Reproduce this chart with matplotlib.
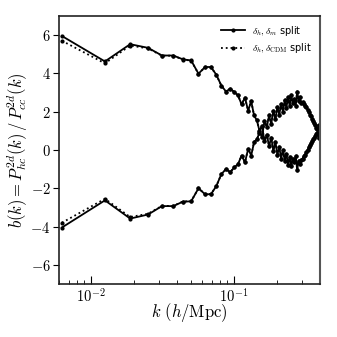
"""
Bias split b(k) = P_hc / P_cc for the two density splits.
Saves out.png (337x337).
"""

import numpy as np
import matplotlib.pyplot as plt
from matplotlib.ticker import FixedLocator, LogLocator, FuncFormatter, NullFormatter

plt.rcParams["mathtext.fontset"] = "cm"

# =========================================================
# Data
# =========================================================

# k bins: multiples of the fundamental mode of a 1000 Mpc/h box
mode_index = np.arange(1, 63)
k = mode_index * 2 * np.pi / 1000.0

# delta_h, delta_m split
b_m_upper = [5.95, 4.62, 5.52, 5.33, 4.93, 4.93, 4.73, 4.67, 3.98, 4.33,
             4.33, 3.92, 3.36, 3.05, 3.20, 3.02, 2.85, 2.38, 2.73, 2.05,
             2.55, 1.80, 1.55, 1.00, 1.25, 0.45, 0.80, 0.20, 0.65, -0.05,
             0.40, -0.25, 0.15, -0.45, 0.00, -0.55, -0.20, -0.80, -0.35, -0.85,
             -0.45, -0.65, -0.30, -1.05, -0.55, -0.75, -0.50, -0.45, -0.30, -0.25,
             -0.10, 0.00, 0.15, 0.25, 0.35, 0.45, 0.55, 0.60, 0.75, 0.85,
             0.90, 1.30]
b_m_lower = [-4.05, -2.63, -3.58, -3.37, -2.93, -2.93, -2.70, -2.68, -2.00, -2.31,
             -2.31, -1.88, -1.26, -1.00, -1.16, -0.91, -0.74, -0.29, -0.65, 0.06,
             -0.29, 0.40, 0.55, 0.90, 0.70, 1.50, 1.20, 1.80, 1.35, 2.05,
             1.60, 2.25, 1.85, 2.40, 2.00, 2.60, 2.20, 2.75, 2.30, 2.85,
             2.45, 2.65, 2.30, 3.05, 2.55, 2.75, 2.45, 2.50, 2.40, 2.30,
             2.25, 2.10, 2.00, 1.85, 1.75, 1.60, 1.50, 1.40, 1.30, 1.15,
             1.10, 0.60]

# delta_h, delta_CDM split
b_cdm_upper = [5.70, 4.52, 5.45, 5.30, 4.92, 4.92, 4.72, 4.66, 3.98, 4.32,
               4.32, 3.92, 3.36, 3.05, 3.20, 3.02, 2.85, 2.38, 2.73, 2.05,
               2.55, 1.80, 1.55, 1.00, 1.25, 0.45, 0.80, 0.20, 0.65, -0.05,
               0.40, -0.25, 0.15, -0.45, 0.00, -0.55, -0.20, -0.80, -0.35, -0.85,
               -0.45, -0.65, -0.30, -1.05, -0.55, -0.75, -0.50, -0.45, -0.30, -0.25,
               -0.10, 0.00, 0.15, 0.25, 0.35, 0.45, 0.55, 0.60, 0.75, 0.85,
               0.90, 1.30]
b_cdm_lower = [-3.80, -2.55, -3.50, -3.33, -2.92, -2.92, -2.69, -2.67, -2.00, -2.30,
               -2.30, -1.88, -1.26, -1.00, -1.16, -0.91, -0.74, -0.29, -0.65, 0.06,
               -0.29, 0.40, 0.55, 0.90, 0.70, 1.50, 1.20, 1.80, 1.35, 2.05,
               1.60, 2.25, 1.85, 2.40, 2.00, 2.60, 2.20, 2.75, 2.30, 2.85,
               2.45, 2.65, 2.30, 3.05, 2.55, 2.75, 2.45, 2.50, 2.40, 2.30,
               2.25, 2.10, 2.00, 1.85, 1.75, 1.60, 1.50, 1.40, 1.30, 1.15,
               1.10, 0.60]

y_ticks = [-6, -4, -2, 0, 2, 4, 6]


# =========================================================
# Plot
# =========================================================

fig = plt.figure(figsize=(3.37, 3.37), dpi=100)
ax = fig.add_axes([0.175, 0.157, 0.775, 0.796])

line_kw = dict(color="black", lw=1.3, marker="o", ms=2.0)

ax.plot(k, b_cdm_upper, ls=":", **line_kw)
ax.plot(k, b_cdm_lower, ls=":", **line_kw)
ax.plot(k, b_m_upper, ls="-", label=r"$\delta_h, \delta_m$ split", **line_kw)
ax.plot(k, b_m_lower, ls="-", **line_kw)
# legend proxy for the dotted series
ax.plot([], [], ls=":", label=r"$\delta_h, \delta_{\rm CDM}$ split", **line_kw)

ax.set_xscale("log")
ax.set_xlim(0.006, 0.4)
ax.set_ylim(-7, 7)

ax.yaxis.set_major_locator(FixedLocator(y_ticks))
ax.yaxis.set_major_formatter(FuncFormatter(lambda v, p: r"$%d$" % v if v >= 0 else r"$-%d$" % -v))
ax.xaxis.set_major_locator(LogLocator(base=10))
ax.xaxis.set_minor_locator(LogLocator(base=10, subs=np.arange(2, 10)))
ax.xaxis.set_major_formatter(FuncFormatter(lambda v, p: r"$10^{%d}$" % round(np.log10(v))))
ax.xaxis.set_minor_formatter(NullFormatter())

ax.tick_params(which="both", top=False, right=False, labelsize=10.5)
ax.tick_params(axis="x", which="major", direction="in", length=6, width=0.8, pad=2)
ax.tick_params(axis="x", which="minor", direction="in", length=3, width=0.6)
ax.tick_params(axis="y", which="major", direction="out", length=4, width=0.8, pad=2)
ax.tick_params(axis="y", which="minor", left=False)

for side in ["left", "bottom", "top"]:
    ax.spines[side].set_color("#222222")
    ax.spines[side].set_linewidth(1.2)
ax.spines["right"].set_color("#555555")
ax.spines["right"].set_linewidth(1.5)

ax.set_xlabel(r"$k\ (h/\mathrm{Mpc})$", fontsize=12, labelpad=-3)
ax.set_ylabel(r"$b(k) = P^{2d}_{hc}(k)\,/\,P^{2d}_{cc}(k)$", fontsize=12, labelpad=0)

ax.legend(loc="upper right", frameon=False, handlelength=2.4, labelspacing=0.35,
          numpoints=1, borderaxespad=0.4, prop={"family": "DejaVu Sans", "size": 7})

fig.savefig("out.png", dpi=100)
